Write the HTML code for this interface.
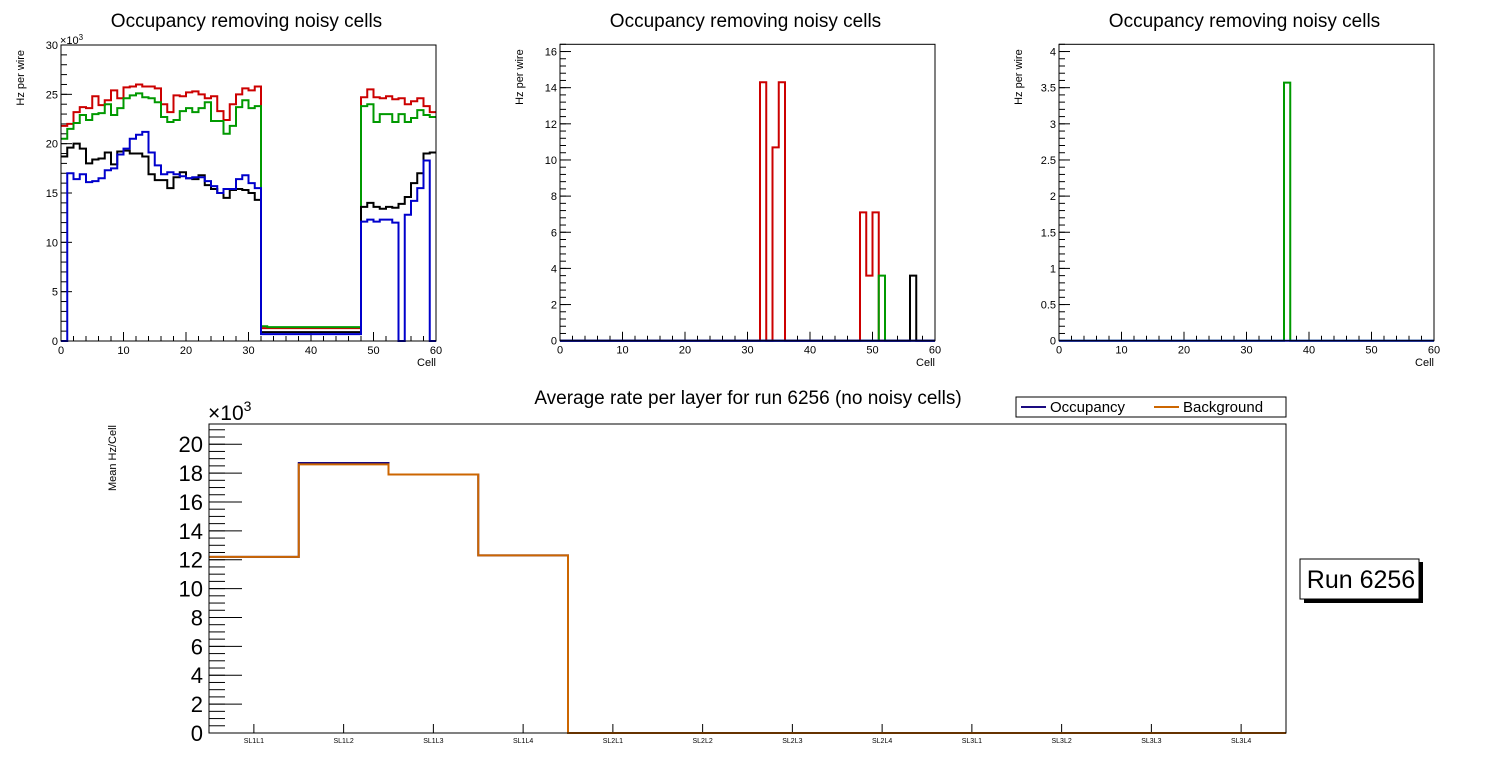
<!DOCTYPE html>
<html><head><meta charset="utf-8"><style>
html,body{margin:0;padding:0;background:#fff;}
svg{display:block;font-family:"Liberation Sans",sans-serif;}
</style></head><body>
<svg id="c" width="1496" height="772" viewBox="0 0 1496 772"></svg>
<script>
// ---- data: panel 1 (Hz per wire, x10^3), 60 cells ----
const p1Red=[21.8,22.0,23.2,23.7,23.6,24.8,23.9,24.4,25.4,24.6,25.7,25.8,26.0,25.8,25.8,25.6,24.0,23.2,24.9,24.8,25.2,25.3,25.0,24.6,24.8,23.3,22.4,24.0,25.0,25.6,25.4,25.8,1.3,1.3,1.3,1.3,1.3,1.3,1.3,1.3,1.3,1.3,1.3,1.3,1.3,1.3,1.3,1.3,24.7,25.5,24.7,24.6,24.8,24.5,24.6,24.0,24.3,24.6,23.8,23.2];
const p1Green=[20.5,21.5,22.1,22.9,22.4,23.0,23.1,24.0,22.9,23.6,24.6,24.9,25.1,24.7,24.6,24.2,22.7,22.2,22.4,23.3,23.6,23.2,23.6,24.2,22.3,22.3,21.0,21.8,23.7,24.4,23.6,23.8,1.5,1.4,1.4,1.4,1.4,1.4,1.4,1.4,1.4,1.4,1.4,1.4,1.4,1.4,1.4,1.4,23.8,24.0,22.2,23.0,23.0,22.2,23.0,22.2,22.6,23.4,22.9,22.7];
const p1Black=[18.7,19.6,20.0,19.5,18.0,18.4,18.5,19.1,17.9,19.2,19.3,19.0,19.0,18.7,16.9,16.3,16.3,15.5,16.6,17.1,16.5,16.4,16.8,15.8,15.4,15.0,14.5,15.3,15.4,15.3,15.0,14.3,0.9,0.9,0.9,0.9,0.9,0.9,0.9,0.9,0.9,0.9,0.9,0.9,0.9,0.9,0.9,0.9,13.6,14.0,13.6,13.4,13.6,13.5,13.9,14.6,16.0,17.0,19.0,19.1];
const p1Blue=[0,17.0,16.4,16.9,16.1,16.2,16.5,17.3,17.5,18.9,19.5,20.5,20.9,21.2,19.1,17.8,16.9,17.1,16.9,16.7,16.5,16.6,16.6,16.2,15.7,15.0,15.4,15.4,16.4,16.8,16.0,15.5,0.7,0.7,0.7,0.7,0.7,0.7,0.7,0.7,0.7,0.7,0.7,0.7,0.7,0.7,0.7,0.7,12.1,12.3,12.1,12.3,12.3,12.0,0,12.8,14.2,15.5,18.3,0];
// panel 2 (sparse): [bin, value]
const p2Red=[[32,14.3],[33,0],[34,10.7],[35,14.3],[48,7.1],[49,3.6],[50,7.1]];
const p2Green=[[51,3.6]];
const p2Black=[[56,3.6]];
// panel 3
const p3Green=[[36,3.57]];
// bottom panel
const layers=["SL1L1","SL1L2","SL1L3","SL1L4","SL2L1","SL2L2","SL2L3","SL2L4","SL3L1","SL3L2","SL3L3","SL3L4"];
const occupancy=[12.2,18.7,17.9,12.3,0,0,0,0,0,0,0,0];
const background=[12.2,18.6,17.9,12.3,0,0,0,0,0,0,0,0];
const p1Ticks=[0,5,10,15,20,25,30];
const p2Ticks=[0,2,4,6,8,10,12,14,16];
const p3Ticks=[0,0.5,1,1.5,2,2.5,3,3.5,4];
const bTicks=[0,2,4,6,8,10,12,14,16,18,20];
const xTicks=[0,10,20,30,40,50,60];

const S=document.getElementById('c');
const NS='http://www.w3.org/2000/svg';
function mk(tag,attrs,parent,txt){const e=document.createElementNS(NS,tag);for(const k in attrs)e.setAttribute(k,attrs[k]);if(txt!==undefined)e.textContent=txt;(parent||S).appendChild(e);return e;}

function dense(sparse){const a=new Array(60).fill(0);sparse.forEach(p=>a[p[0]]=p[1]);return a;}
function stepPath(vals,x0,x1,ymap,n){const w=(x1-x0)/n;let d='';vals.forEach((v,i)=>{const y=ymap(v);d+=(i===0?'M':'L')+(x0+i*w)+','+y+'L'+(x0+(i+1)*w)+','+y;});return d;}

function panel(px0,px1,py0,py1,ymax,ticks,tickFmt,minorStep,series,name,exp){
  const g=mk('g',{},S);
  
  
  const X=v=>px0+(px1-px0)*v/60, Y=v=>py1-(py1-py0)*v/ymax;
  const t=mk('text',{x:(px0+px1)/2-2,y:27,'font-size':19,'text-anchor':'middle'},g,'Occupancy removing noisy cells');
  
  const yl=mk('text',{x:0,y:0,'font-size':11,'text-anchor':'end',transform:`translate(${px0-37},${py0+5}) rotate(-90)`},g,'Hz per wire');
  
  const xl=mk('text',{x:px1,y:366,'font-size':11,'text-anchor':'end'},g,'Cell');
  
  for(let v=0;v<=ymax+1e-9;v+=minorStep){const y=Y(v);mk('line',{x1:px0,x2:px0+6,y1:y,y2:y,stroke:'#000','stroke-width':1},g);}
  ticks.forEach(v=>{const y=Y(v);mk('line',{x1:px0,x2:px0+11,y1:y,y2:y,stroke:'#000','stroke-width':1},g);
    const l=mk('text',{x:px0-3,y:y+4,'font-size':11,'text-anchor':'end'},g,tickFmt(v));});
  for(let v=0;v<=60;v+=2){const x=X(v);mk('line',{x1:x,x2:x,y1:py1,y2:py1-(v%10===0?9:5),stroke:'#000','stroke-width':1},g);}
  xTicks.forEach(v=>{const l=mk('text',{x:X(v),y:py1+13,'font-size':11,'text-anchor':'middle'},g,String(v));});
  if(exp){const e=mk('text',{x:px0-1,y:py0-1,'font-size':11},g,'×10');mk('tspan',{dy:-4,'font-size':8},e,'3');}
  series.forEach(s=>{const p=mk('path',{d:stepPath(s.v,px0,px1,Y,60),fill:'none',stroke:s.c,'stroke-width':2},g);});
  const f=mk('rect',{x:px0,y:py0,width:px1-px0,height:py1-py0,fill:'none',stroke:'#000','stroke-width':1},g);
  
}
panel(61,436,45,341,30,p1Ticks,v=>String(v),1,[
 {v:p1Red,c:'#cc0000',n:'series-red'},{v:p1Green,c:'#009900',n:'series-green'},{v:p1Black,c:'#000',n:'series-black'},{v:p1Blue,c:'#0000cc',n:'series-blue'}],'panel-1',true);
panel(560,935,44.3,340.7,16.4,p2Ticks,v=>String(v),0.4,[
 {v:dense(p2Red),c:'#cc0000',n:'series-red'},{v:dense(p2Green),c:'#009900',n:'series-green'},{v:dense(p2Black),c:'#000',n:'series-black'},{v:new Array(60).fill(0),c:'#0000cc',n:'series-blue'}],'panel-2',false);
panel(1059,1434,44.3,340.7,4.1,p3Ticks,v=>String(v),0.1,[
 {v:dense(p3Green),c:'#009900',n:'series-green'},{v:new Array(60).fill(0),c:'#0000cc',n:'series-blue'}],'panel-3',false);

// bottom chart
(function(){
  const x0=209,x1=1286,y0=424,y1=733,ymax=21.4;
  const g=mk('g',{},S);
  
  const Y=v=>y1-(y1-y0)*v/ymax;const w=(x1-x0)/layers.length;
  const t=mk('text',{x:748,y:404,'font-size':19,'text-anchor':'middle'},g,'Average rate per layer for run 6256 (no noisy cells)');
  
  const yl=mk('text',{x:0,y:0,'font-size':11,'text-anchor':'end',transform:`translate(116,425) rotate(-90)`},g,'Mean Hz/Cell');
  
  for(let v=0;v<=ymax;v+=0.5){const y=Y(v);mk('line',{x1:x0,x2:x0+16,y1:y,y2:y,stroke:'#000','stroke-width':1},g);}
  bTicks.forEach(v=>{const y=Y(v);mk('line',{x1:x0,x2:x0+33,y1:y,y2:y,stroke:'#000','stroke-width':1},g);
    const l=mk('text',{x:x0-6,y:y+8,'font-size':22,'text-anchor':'end'},g,String(v));});
  const e=mk('text',{x:x0-1,y:y0-4,'font-size':21},g,'×10');mk('tspan',{dy:-9,'font-size':14},e,'3');
  layers.forEach((c,i)=>{const x=x0+(i+0.5)*w;mk('line',{x1:x,x2:x,y1:y1,y2:y1-9,stroke:'#000','stroke-width':1},g);
    const l=mk('text',{x:x,y:y1+10,'font-size':7,'text-anchor':'middle'},g,c);});
  const po=mk('path',{d:stepPath(occupancy,x0,x1,Y,layers.length),fill:'none',stroke:'#1a0a80','stroke-width':2},g);
  
  const pb=mk('path',{d:stepPath(background,x0,x1,Y,layers.length),fill:'none',stroke:'#cc6600','stroke-width':2},g);
  
  const f=mk('rect',{x:x0,y:y0,width:x1-x0,height:y1-y0,fill:'none',stroke:'#000','stroke-width':1},g);
  
  const lg=mk('g',{},S);
  mk('rect',{x:1016,y:397,width:270,height:20,fill:'#fff',stroke:'#000','stroke-width':1},lg);
  mk('line',{x1:1021,x2:1046,y1:407,y2:407,stroke:'#1a0a80','stroke-width':2},lg);
  const a=mk('text',{x:1050,y:412,'font-size':15},lg,'Occupancy');
  mk('line',{x1:1154,x2:1179,y1:407,y2:407,stroke:'#cc6600','stroke-width':2},lg);
  const b=mk('text',{x:1183,y:412,'font-size':15},lg,'Background');
  const rb=mk('g',{},S);
  mk('rect',{x:1304,y:562,width:119,height:41,fill:'#000'},rb);
  mk('rect',{x:1300,y:559,width:119,height:40,fill:'#fff',stroke:'#000','stroke-width':1},rb);
  mk('text',{x:1361,y:588,'font-size':25,'text-anchor':'middle'},rb,'Run 6256');
})();
</script>
</body></html>
